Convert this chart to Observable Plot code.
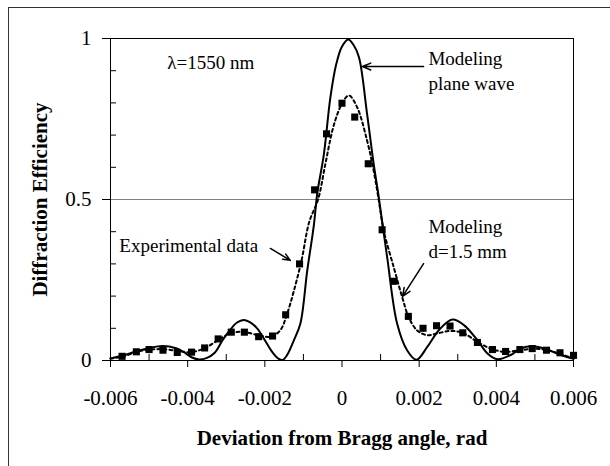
<!DOCTYPE html>
<html>
<head>
<meta charset="utf-8">
<script src="https://cdn.jsdelivr.net/npm/d3@7"></script>
<script src="https://cdn.jsdelivr.net/npm/@observablehq/plot@0.6"></script>
<style>
  html, body { margin: 0; padding: 0; background: #fff; }
  #wrap { position: relative; width: 610px; height: 466px; overflow: hidden; }
  #border { position: absolute; left: 8px; top: 7px; width: 800px; height: 700px; border-left: 1px solid #333; border-top: 1px solid #333; }
  #chart { position: absolute; left: 0; top: 0; }
  #chart svg, #chart svg text, #chart svg g { font-family: "Liberation Serif", "Times New Roman", serif !important; }
</style>
</head>
<body>
<div id="wrap"><div id="border"></div><div id="chart"></div></div>
<script>
// Experimental data (squares)
const expX = [-0.0057, -0.00533, -0.005, -0.00464, -0.00427, -0.0039, -0.00356, -0.00321, -0.00287, -0.00253,
  -0.00216, -0.0018, -0.00146, -0.0011, -0.00071, -0.0004, 0.0, 0.00033, 0.00068, 0.00104,
  0.00135, 0.00172, 0.0021, 0.00245, 0.0028, 0.00313, 0.00351, 0.0039, 0.00424, 0.00461,
  0.00493, 0.0053, 0.00565, 0.006];
const expY = [0.013, 0.027, 0.034, 0.032, 0.025, 0.026, 0.039, 0.067, 0.088, 0.088,
  0.074, 0.076, 0.142, 0.30, 0.53, 0.704, 0.799, 0.756, 0.611, 0.406,
  0.246, 0.137, 0.10, 0.108, 0.107, 0.086, 0.056, 0.034, 0.028, 0.034,
  0.037, 0.032, 0.024, 0.016];

// Modeling, plane wave (solid)
const pwX = [-0.006, -0.0055, -0.0051, -0.00465, -0.0043, -0.0041, -0.0039, -0.0037, -0.0035, -0.0033,
  -0.0031, -0.0029, -0.00272, -0.00255, -0.0024, -0.0022, -0.002, -0.0018, -0.00165, -0.00153,
  -0.0014, -0.00125, -0.00108, -0.0009, -0.00073, -0.00064, -0.00047, -0.0003, -0.00015, 0.0,
  0.00016, 0.0003, 0.00044, 0.00065, 0.00082, 0.00095, 0.00117, 0.00143, 0.00169, 0.00193,
  0.00221, 0.00251, 0.00286, 0.00316, 0.00351, 0.00377, 0.00403, 0.00437, 0.00463, 0.00493,
  0.00532, 0.00567, 0.006];
const pwY = [0.006, 0.022, 0.036, 0.045, 0.038, 0.026, 0.010, 0.003, 0.008, 0.024,
  0.062, 0.095, 0.118, 0.126, 0.120, 0.100, 0.063, 0.025, 0.006, 0.002,
  0.022, 0.062, 0.114, 0.28, 0.42, 0.52, 0.64, 0.818, 0.92, 0.975,
  0.997, 0.98, 0.942, 0.766, 0.611, 0.51, 0.321, 0.114, 0.031, 0.002,
  0.042, 0.094, 0.127, 0.110, 0.063, 0.022, 0.004, 0.017, 0.037, 0.044,
  0.034, 0.017, 0.005];

// Modeling, d = 1.5 mm (dashed)
const dX = [-0.006, -0.00566, -0.00531, -0.00497, -0.00462, -0.00427, -0.00393, -0.00358, -0.00324, -0.00289,
  -0.00255, -0.0022, -0.00185, -0.0016, -0.00142, -0.00125, -0.00105, -0.00085, -0.00062, -0.00043,
  -0.00025, -0.00012, 0.00003, 0.00018, 0.00039, 0.00065, 0.00082, 0.00095, 0.00108, 0.00134,
  0.00156, 0.00173, 0.00195, 0.0022, 0.00247, 0.00281, 0.00316, 0.00351, 0.00385, 0.0042,
  0.00463, 0.00498, 0.00532, 0.00567, 0.006];
const dY = [0.006, 0.013, 0.027, 0.034, 0.035, 0.030, 0.026, 0.037, 0.061, 0.084,
  0.089, 0.079, 0.074, 0.094, 0.146, 0.215, 0.31, 0.43, 0.50, 0.611,
  0.714, 0.765, 0.805, 0.823, 0.787, 0.683, 0.59, 0.50, 0.404, 0.29,
  0.197, 0.134, 0.093, 0.079, 0.084, 0.092, 0.084, 0.058, 0.037, 0.027,
  0.032, 0.037, 0.032, 0.020, 0.006];

// Axis ticks
const xMajor = [-0.006, -0.004, -0.002, 0, 0.002, 0.004, 0.006];
const xMajorLabels = ["-0.006", "-0.004", "-0.002", "0", "0.002", "0.004", "0.006"];
const xMinor = [-0.005, -0.003, -0.001, 0.001, 0.003, 0.005];
const yMajor = [0, 0.5, 1];
const yMajorLabels = ["0", "0.5", "1"];
const yMinor = [0.1, 0.2, 0.3, 0.4, 0.6, 0.7, 0.8, 0.9];
const yGrid = [0.5];
const xTitle = "Deviation from Bragg angle, rad";
const yTitle = "Diffraction Efficiency";

// Annotations
const noteText = ["λ=1550 nm", "Modeling\nplane wave", "Modeling\nd=1.5 mm", "Experimental data"];
const noteX = [-0.00453, 0.00224, 0.00224, -0.00577];
const noteY = [0.959, 0.974, 0.450, 0.393];
const arrowX1 = [0.002114, 0.002114, -0.001855];
const arrowY1 = [0.913, 0.301, 0.348];
const arrowX2 = [0.00053, 0.00157, -0.00134];
const arrowY2 = [0.913, 0.199, 0.311];

const exp = expX.map((x, i) => ({x, y: expY[i]}));
const pw = pwX.map((x, i) => ({x, y: pwY[i]}));
const dd = dX.map((x, i) => ({x, y: dY[i]}));
const notes = noteText.map((t, i) => ({t, x: noteX[i], y: noteY[i]}));
const arrows = arrowX1.map((x1, i) => ({x1, y1: arrowY1[i], x2: arrowX2[i], y2: arrowY2[i]}));

const font = "'Liberation Serif', 'Times New Roman', serif";

const chart = Plot.plot({
  width: 610,
  height: 466,
  marginLeft: 110,
  marginRight: 37,
  marginTop: 38,
  marginBottom: 106,
  style: {fontFamily: font, fontSize: "21px", color: "black", background: "transparent", overflow: "visible"},
  x: {domain: [-0.006, 0.006], axis: null},
  y: {domain: [0, 1], axis: null},
  marks: [
    Plot.ruleY(yGrid, {stroke: "#808080", strokeWidth: 1}),
    Plot.frame({stroke: "black", strokeWidth: 1}),
    Plot.axisX(xMajor, {anchor: "bottom", tickSize: 7, tickPadding: 23, fontSize: 21, fontFamily: font,
      tickFormat: d => xMajorLabels[xMajor.indexOf(d)], stroke: "black", label: null}),
    Plot.axisX(xMinor, {anchor: "bottom", tickSize: -6, tickFormat: () => "", stroke: "black", label: null}),
    Plot.axisY(yMajor, {anchor: "left", tickSize: 8, tickPadding: 11, fontSize: 21, fontFamily: font,
      tickFormat: d => yMajorLabels[yMajor.indexOf(d)], stroke: "black", label: null}),
    Plot.axisY(yMinor, {anchor: "left", tickSize: -6, tickFormat: () => "", stroke: "black", label: null}),
    Plot.line(pw, {x: "x", y: "y", curve: "catmull-rom", stroke: "black", strokeWidth: 2}),
    Plot.line(dd, {x: "x", y: "y", curve: "catmull-rom", stroke: "black", strokeWidth: 2, strokeDasharray: "3,3"}),
    Plot.dot(exp, {x: "x", y: "y", symbol: "square", r: 4, fill: "black", stroke: null}),
    Plot.arrow(arrows, {x1: "x1", y1: "y1", x2: "x2", y2: "y2", stroke: "black", strokeWidth: 1.5, headLength: 9, headAngle: 45}),
    Plot.text(notes, {x: "x", y: "y", text: "t", textAnchor: "start", lineAnchor: "top", lineHeight: 1.32,
      fontSize: 19, fontFamily: font, fill: "black"}),
    Plot.text([xTitle], {frameAnchor: "bottom", dy: 78, textAnchor: "middle", lineAnchor: "middle",
      fontWeight: "bold", fontSize: 21, fontFamily: font, fill: "black"}),
    Plot.text([yTitle], {frameAnchor: "left", dx: -70, rotate: -90, textAnchor: "middle", lineAnchor: "middle",
      fontWeight: "bold", fontSize: 21, fontFamily: font, fill: "black"})
  ]
});
document.getElementById("chart").appendChild(chart);
</script>
</body>
</html>
